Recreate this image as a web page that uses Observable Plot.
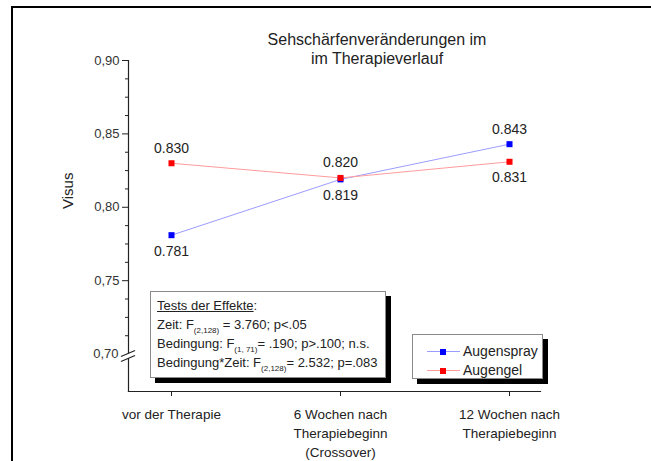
<!DOCTYPE html>
<html>
<head>
<meta charset="utf-8">
<script src="https://cdn.jsdelivr.net/npm/d3@7"></script>
<script src="https://cdn.jsdelivr.net/npm/@observablehq/plot@0.6"></script>
<style>
  html, body { margin: 0; padding: 0; background: #fff; }
  #wrap { position: relative; width: 651px; height: 461px; overflow: hidden; font-family: "Liberation Sans", Arial, sans-serif; color: #222; }
  #border { position: absolute; left: 11px; top: 6px; width: 700px; height: 500px; border-top: 2.5px solid #000; border-left: 2.5px solid #000; }
  #chart { position: absolute; left: 0; top: 0; }
  #title { position: absolute; left: 227px; top: 30px; width: 300px; text-align: center; font-size: 16px; line-height: 19px; color: #222; }
  .box { position: absolute; background: #fff; border: 1px solid #8a8a8a; box-shadow: 5px 5px 0 #000; box-sizing: border-box; }
  #tests { left: 150px; top: 291px; width: 236px; height: 87px; padding: 4px 0 0 6px; font-size: 13px; line-height: 19px; white-space: nowrap; }
  #tests sub { font-size: 8px; vertical-align: -4px; line-height: 0; }
  #legend { left: 412px; top: 334px; width: 131px; height: 45px; padding-top: 7px; padding-left: 14px; font-size: 14px; line-height: 19px; }
  .lrow { display: flex; align-items: center; height: 19px; }
  .lsw { position: relative; width: 33px; height: 19px; margin-right: 3px; }
  .lsw .ln { position: absolute; left: 0; right: 0; top: 9px; height: 1px; }
  .lsw .sq { position: absolute; left: 13px; top: 6.5px; width: 6px; height: 6px; }
</style>
</head>
<body>
<div id="wrap">
  <div id="border"></div>
  <div id="chart"></div>
  <div id="title">Sehschärfenveränderungen im<br>im Therapieverlauf</div>
  <div class="box" id="tests"></div>
  <div class="box" id="legend"></div>
</div>
<script>
// ---- data ----
const categories = ["vor der Therapie", "6 Wochen nach\nTherapiebeginn\n(Crossover)", "12 Wochen nach\nTherapiebeginn"];
const seriesNames = ["Augenspray", "Augengel"];
const sprayValues = [0.781, 0.819, 0.843];
const gelValues = [0.830, 0.820, 0.831];
const markerColors = ["#0000ff", "#ff0000"];
const lineColors = ["#9c9cff", "#ff9c9c"];
const yMajorTicks = [0.70, 0.75, 0.80, 0.85, 0.90];
const yMinorTicks = [0.7125, 0.725, 0.7375, 0.7625, 0.775, 0.7875, 0.8125, 0.825, 0.8375, 0.8625, 0.875, 0.8875];
const yLabel = "Visus";
const testLines = [
  ["<u>Tests der Effekte</u>:"],
  ["Zeit: F", "(2,128)", " = 3.760; p<.05"],
  ["Bedingung: F", "(1, 71)", "= .190; p>.100; n.s."],
  ["Bedingung*Zeit: F", "(2,128)", "= 2.532; p=.083"]
];

// ---- table ----
const seriesValues = [sprayValues, gelValues];
const rows = [];
seriesNames.forEach((s, si) => categories.forEach((c, i) => rows.push({cat: c, series: s, v: seriesValues[si][i]})));
const maxAt = new Map(categories.map((c, i) => [c, Math.max(...seriesValues.map(a => a[i]))]));
const above = rows.filter(d => d.v === maxAt.get(d.cat));
const below = rows.filter(d => d.v !== maxAt.get(d.cat));
const fmtComma = d => d.toFixed(2).replace(".", ",");

const lineMarks = seriesNames.flatMap((s, si) => [
  Plot.line(rows.filter(d => d.series === s), {x: "cat", y: "v", stroke: lineColors[si], strokeWidth: 1}),
  Plot.dot(rows.filter(d => d.series === s), {x: "cat", y: "v", symbol: "square", r: 3.4, fill: markerColors[si], stroke: "none"})
]);

const chart = Plot.plot({
  width: 651, height: 461,
  marginTop: 60, marginLeft: 128, marginRight: 111, marginBottom: 70,
  style: {fontFamily: "'Liberation Sans', Arial, sans-serif", background: "transparent", color: "#222"},
  x: {type: "point", domain: categories, range: [170, 509], padding: 0},
  y: {domain: [0.6745, 0.90]},
  marks: [
    Plot.frame({anchor: "left", stroke: "#222", strokeWidth: 1.2}),
    Plot.frame({anchor: "bottom", stroke: "#222", strokeWidth: 1.2}),
    Plot.axisY({ticks: yMinorTicks, tickSize: 3, text: null, label: null, stroke: "#222"}),
    Plot.axisY({ticks: yMajorTicks.filter(t => t > 0.70), tickSize: 6, tickPadding: 3, tickFormat: fmtComma, fontSize: 13, label: null, stroke: "#222", fill: "#333"}),
    Plot.axisY({ticks: yMajorTicks.filter(t => t === 0.70), tickSize: 0, tickPadding: 10, tickFormat: fmtComma, fontSize: 13, label: null, fill: "#333"}),
    Plot.axisX({tickSize: 5, tickPadding: 9, fontSize: 13.5, lineHeight: 1.4, label: null, stroke: "#222", fill: "#222"}),
    Plot.text([yLabel], {frameAnchor: "left", dx: -60, dy: -17, rotate: -90, fontSize: 15, fill: "#222"}),
    ...lineMarks,
    Plot.text(above, {x: "cat", y: "v", text: d => d.v.toFixed(3), dy: -15, fontSize: 14, fill: "#222"}),
    Plot.text(below, {x: "cat", y: "v", text: d => d.v.toFixed(3), dy: 16, fontSize: 14, fill: "#222"})
  ]
});
document.getElementById("chart").appendChild(chart);

// axis break at 0,70
const ys = chart.scale("y");
const y0 = ys.apply(0.70);
const xl = 128;
const svg = d3.select(chart);
svg.append("path")
  .attr("d", `M${xl-7},${y0+3}L${xl+7},${y0-3}L${xl+7},${y0+2}L${xl-7},${y0+8}Z`)
  .attr("fill", "#fff");
svg.append("path")
  .attr("d", `M${xl-7},${y0+3}L${xl+7},${y0-3}M${xl-7},${y0+8}L${xl+7},${y0+2}`)
  .attr("stroke", "#222").attr("stroke-width", 1.2).attr("fill", "none");

// tests box
document.getElementById("tests").innerHTML = testLines.map(l =>
  "<div>" + (l.length === 1 ? l[0] : l[0].replace(/</g, "&lt;") + "<sub>" + l[1] + "</sub>" + l[2].replace(/</g, "&lt;").replace(/>/g, "&gt;")) + "</div>"
).join("");

// legend
document.getElementById("legend").innerHTML = seriesNames.map((s, i) =>
  `<div class="lrow"><div class="lsw"><div class="ln" style="background:${lineColors[i]}"></div><div class="sq" style="background:${markerColors[i]}"></div></div><span>${s}</span></div>`
).join("");
</script>
</body>
</html>
